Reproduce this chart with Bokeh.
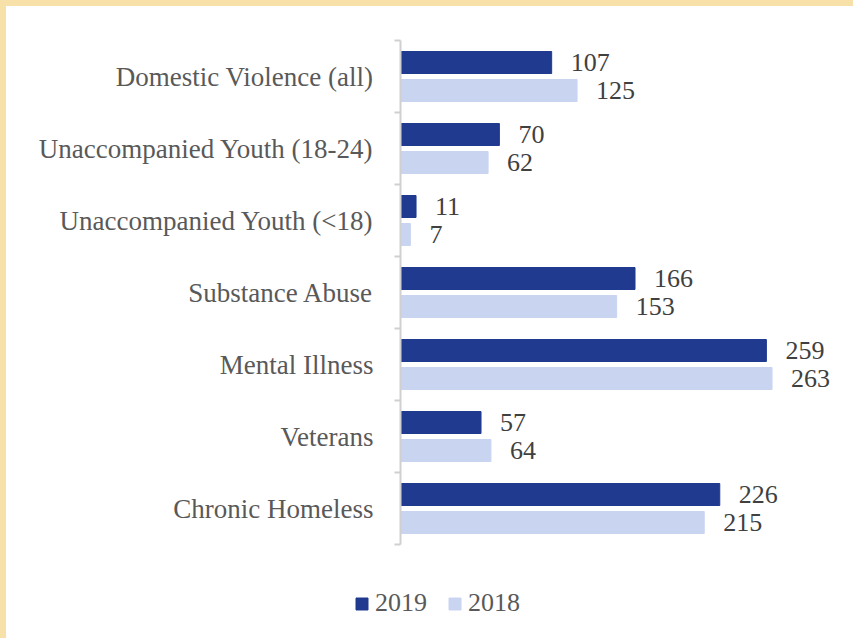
from bokeh.plotting import figure
from bokeh.models import ColumnDataSource, Range1d, FixedTicker, Legend, LegendItem
from bokeh.core.properties import value
from bokeh.embed import file_html
from bokeh.resources import INLINE

categories = ["Chronic Homeless", "Veterans", "Mental Illness", "Substance Abuse",
              "Unaccompanied Youth (<18)", "Unaccompanied Youth (18-24)", "Domestic Violence (all)"]
values_2019 = [226, 57, 259, 166, 11, 70, 107]
values_2018 = [215, 64, 263, 153, 7, 62, 125]
series_names = ["2019", "2018"]

DARK = "#1F3A8F"
LIGHT = "#C9D4F1"
FONT = "Liberation Serif"
EDGE = "6px solid #F7E1A9"

centers = [i + 0.5 for i in range(len(categories))]
off = 14 / 72
bar_h = 22 / 72

src19 = ColumnDataSource(dict(y=[c + off for c in centers], v=values_2019,
                              t=[str(v) for v in values_2019]))
src18 = ColumnDataSource(dict(y=[c - off for c in centers], v=values_2018,
                              t=[str(v) for v in values_2018]))

p = figure(width=853, height=560, output_backend="svg", toolbar_location=None,
           x_range=Range1d(0, 315), y_range=Range1d(0, len(categories)),
           x_axis_location=None,
           min_border_left=394, min_border_right=14, min_border_top=34, min_border_bottom=22,
           styles={"border-left": EDGE, "border-top": EDGE})
p.outline_line_color = None
p.xgrid.visible = False
p.ygrid.visible = False
p.background_fill_color = "white"
p.border_fill_color = "white"

r19 = p.hbar(y="y", right="v", left=0, height=bar_h, source=src19,
             fill_color=DARK, line_color=DARK)
r18 = p.hbar(y="y", right="v", left=0, height=bar_h, source=src18,
             fill_color=LIGHT, line_color=LIGHT)

for s in (src19, src18):
    p.text(x="v", y="y", text="t", source=s, x_offset=19, text_align="left",
           text_baseline="middle", text_font=value(FONT), text_font_size="26px",
           text_color="#404040")

ax = p.yaxis[0]
ax.ticker = FixedTicker(ticks=centers, minor_ticks=list(range(len(categories) + 1)))
ax.major_label_overrides = {c: n for c, n in zip(centers, categories)}
ax.major_tick_out = 0
ax.major_tick_in = 0
ax.minor_tick_out = 6
ax.minor_tick_in = 0
ax.minor_tick_line_color = "#D0D0D0"
ax.minor_tick_line_width = 2
ax.axis_line_color = "#D0D0D0"
ax.axis_line_width = 2
ax.major_label_standoff = 21
ax.major_label_text_font = FONT
ax.major_label_text_font_size = "27px"
ax.major_label_text_color = "#595959"

# legend strip below the chart (same series; ranges chosen so only the legend shows)
lg = figure(width=853, height=78, output_backend="svg", toolbar_location=None,
            x_range=Range1d(-1000, -999), y_range=Range1d(-1000, -999),
            x_axis_location=None, y_axis_location=None,
            min_border_left=0, min_border_right=0, min_border_top=0, min_border_bottom=0,
            styles={"border-left": EDGE})
lg.outline_line_color = None
lg.xgrid.visible = False
lg.ygrid.visible = False
lg.background_fill_color = "white"
lg.border_fill_color = "white"
k19 = lg.hbar(y="y", right="v", left=0, height=bar_h, source=src19,
              fill_color=DARK, line_color=DARK)
k18 = lg.hbar(y="y", right="v", left=0, height=bar_h, source=src18,
              fill_color=LIGHT, line_color=LIGHT)
legend = Legend(items=[LegendItem(label=series_names[0], renderers=[k19]),
                       LegendItem(label=series_names[1], renderers=[k18])],
                orientation="horizontal", location=(348, 20),
                glyph_width=15, glyph_height=15, label_standoff=6, spacing=20,
                padding=0, margin=0, border_line_color=None, background_fill_alpha=0,
                label_text_font=FONT, label_text_font_size="26px",
                label_text_color="#595959")
lg.add_layout(legend, "center")

open("out.html", "w").write(file_html([p, lg], INLINE))
